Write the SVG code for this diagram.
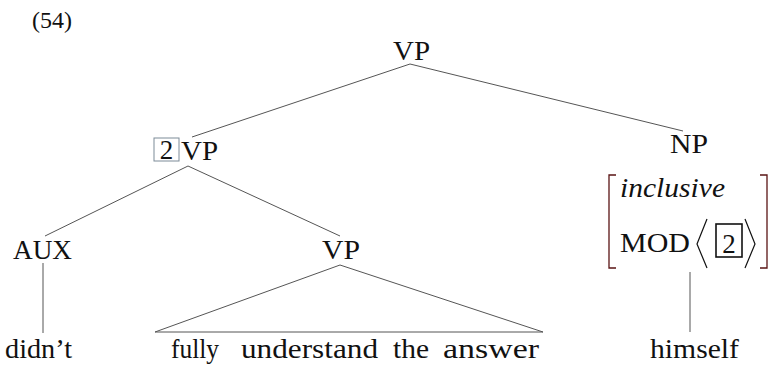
<svg xmlns="http://www.w3.org/2000/svg" width="772" height="367" viewBox="0 0 772 367">
<style>
.e{stroke:#555;stroke-width:1;fill:none}
.br{stroke:#5a1414;stroke-width:1.3;fill:none}
</style>
<rect width="772" height="367" fill="#fff"/>
<g font-family="Liberation Serif, DejaVu Serif, serif" font-size="27" fill="#111" lengthAdjust="spacingAndGlyphs">
<text x="32" y="28" font-size="24" textLength="40" lengthAdjust="spacingAndGlyphs">(54)</text>
<g id="connectors">
<line class="e" x1="410" y1="64" x2="192" y2="137"/>
<line class="e" x1="410" y1="64" x2="683" y2="131"/>
<line class="e" x1="188" y1="166" x2="45" y2="236"/>
<line class="e" x1="188" y1="166" x2="340" y2="236"/>
<line class="e" x1="43" y1="263" x2="43" y2="333"/>
<polygon class="e" points="340,265 155,332 543,332"/>
<line class="e" x1="690" y1="272" x2="690" y2="332"/>
</g>
<g id="vp-top"><text x="393" y="60" textLength="37" lengthAdjust="spacingAndGlyphs">VP</text></g>
<g id="vp-2">
<rect x="154" y="138" width="25" height="23" fill="none" stroke="#7d8b98" stroke-width="1"/>
<text x="166.5" y="159" text-anchor="middle">2</text>
<text x="181" y="160" textLength="37" lengthAdjust="spacingAndGlyphs">VP</text>
</g>
<g id="np"><text x="670" y="153" textLength="38" lengthAdjust="spacingAndGlyphs">NP</text></g>
<g id="aux"><text x="13" y="259" textLength="59" lengthAdjust="spacingAndGlyphs">AUX</text></g>
<g id="vp-low"><text x="322" y="259" textLength="38" lengthAdjust="spacingAndGlyphs">VP</text></g>
<g id="avm">
<path class="br" d="M616,175 H609 V268 H616"/>
<path class="br" d="M760,175 H767 V268 H760"/>
<text x="620" y="197" font-style="italic" textLength="105" lengthAdjust="spacingAndGlyphs">inclusive</text>
<text x="620" y="252" textLength="70" lengthAdjust="spacingAndGlyphs">MOD</text>
<polyline points="707,219 697,244 707,268" fill="none" stroke="#111" stroke-width="1.2"/>
<rect x="716" y="224" width="26" height="33" fill="none" stroke="#111" stroke-width="1.6"/>
<text x="729" y="253" text-anchor="middle">2</text>
<polyline points="745,219 755,244 745,268" fill="none" stroke="#111" stroke-width="1.2"/>
</g>
<g id="didnt"><text x="5" y="358" textLength="67" lengthAdjust="spacingAndGlyphs">didn’t</text></g>
<g id="phrase">
<text x="171" y="358" textLength="48" lengthAdjust="spacingAndGlyphs">fully</text>
<text x="241" y="358" textLength="137" lengthAdjust="spacingAndGlyphs">understand</text>
<text x="393" y="358" textLength="36" lengthAdjust="spacingAndGlyphs">the</text>
<text x="443" y="358" textLength="96" lengthAdjust="spacingAndGlyphs">answer</text>
</g>
<g id="himself"><text x="650" y="358" textLength="89" lengthAdjust="spacingAndGlyphs">himself</text></g>
</g>
</svg>
